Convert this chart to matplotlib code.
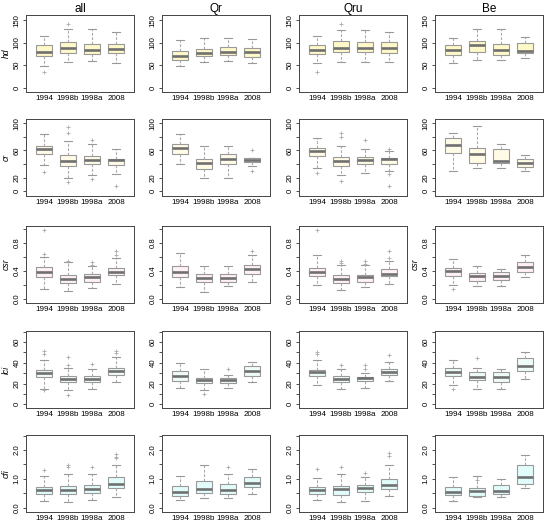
import matplotlib
matplotlib.use("Agg")
import matplotlib.pyplot as plt

plt.rcParams['font.family'] = ['Liberation Sans', 'DejaVu Sans']

years = ['1994', '1998b', '1998a', '2008']
groups = ['all', 'Qr', 'Qru', 'Be']
variables = ['hd', 'cr', 'csr', 'lci', 'cfi']

# box stats per year: whisker low, Q1, median, Q3, whisker high
hd_all = [[49, 71, 80, 94, 116], [57, 77, 88, 101, 131], [59, 75, 84, 98, 131], [55, 76, 86, 97, 125]]
hd_Qr = [[48, 61, 71, 81, 107], [56, 70, 77, 87, 111], [59, 73, 79, 91, 111], [54, 68, 80, 89, 109]]
hd_Qru = [[55, 74, 84, 94, 116], [57, 80, 89, 105, 129], [57, 79, 88, 101, 129], [56, 77, 88, 101, 125]]
hd_Be = [[55, 72, 84, 94, 111], [61, 79, 94, 103, 131], [61, 73, 84, 98, 131], [66, 76, 81, 99, 113]]
hd_all_out = [[34], [143], [], []]
hd_Qr_out = [[], [], [], []]
hd_Qru_out = [[34], [143], [], []]
hd_Be_out = [[], [], [], []]

cr_all = [[38, 54.4, 61.4, 66.5, 84.7], [19.5, 37.7, 44, 52.6, 74.4], [24, 40.5, 45.6, 52, 69], [24.6, 39, 46, 48, 61.4]]
cr_Qr = [[39.5, 54, 63, 69, 83.7], [19.5, 32, 41.4, 48, 66], [19.5, 39.5, 47, 55, 66], [37, 43, 46, 48.4, 49]]
cr_Qru = [[34, 51, 59.5, 63.7, 77.7], [24, 37, 44, 50, 66.5], [27.4, 40, 45.6, 50, 62], [30, 39.5, 47.4, 49, 59.5]]
cr_Be = [[29, 56, 68, 77.7, 85], [34, 42, 55, 64, 95], [34, 42, 44.7, 62, 70], [29, 35.3, 41, 47, 53]]
cr_all_out = [[28], [94, 85, 14], [75, 18.6], [8]]
cr_Qr_out = [[], [], [], [60.5, 30]]
cr_Qru_out = [[27], [85.6, 79, 14.4], [75], [62, 24.6, 8]]
cr_Be_out = [[], [], [], []]

csr_all = [[0.14, 0.315, 0.386, 0.45, 0.60], [0.108, 0.226, 0.29, 0.34, 0.52], [0.155, 0.24, 0.306, 0.35, 0.475], [0.21, 0.334, 0.376, 0.447, 0.59]]
csr_Qr = [[0.174, 0.31, 0.376, 0.475, 0.66], [0.10, 0.235, 0.30, 0.35, 0.475], [0.18, 0.235, 0.30, 0.35, 0.475], [0.24, 0.35, 0.42, 0.48, 0.63]]
csr_Qru = [[0.2, 0.32, 0.376, 0.447, 0.63], [0.13, 0.22, 0.29, 0.34, 0.485], [0.165, 0.24, 0.306, 0.344, 0.485], [0.21, 0.325, 0.36, 0.42, 0.54]]
csr_Be = [[0.2, 0.33, 0.40, 0.44, 0.565], [0.18, 0.26, 0.325, 0.367, 0.466], [0.19, 0.264, 0.33, 0.38, 0.42], [0.306, 0.376, 0.45, 0.52, 0.63]]
csr_all_out = [[0.64, 0.99], [0.54], [0.53, 0.49], [0.63, 0.69]]
csr_Qr_out = [[], [], [], [0.68]]
csr_Qru_out = [[0.99], [0.54, 0.51], [0.54, 0.50], [0.59, 0.69]]
csr_Be_out = [[0.14], [], [], []]

lci_all = [[15, 26.3, 30.2, 32.7, 42.9], [13.7, 21.6, 24.8, 27.3, 35], [14.6, 21.9, 24.8, 27.6, 34.3], [21.3, 28.6, 32, 35.2, 45.4]]
lci_Qr = [[15.6, 22.9, 27.3, 32.4, 40], [13.7, 20.6, 23.2, 25.4, 33.7], [15.9, 20.6, 23.8, 25, 28], [21.3, 27.3, 32, 36.8, 40.6]]
lci_Qru = [[18.7, 27, 31.1, 33.3, 42.9], [14.6, 21.3, 24.4, 27, 34.3], [15.6, 22.2, 25, 26.3, 30.5], [22.2, 28.6, 31.1, 34, 40.6]]
lci_Be = [[18.4, 27.6, 31.1, 34.6, 42.9], [15.2, 23.2, 26.7, 31.1, 35.2], [15.2, 21.3, 26.3, 31.1, 34.3], [24.8, 32, 37.1, 44.4, 50.2]]
lci_all_out = [[50.8, 48.6, 13.7], [45.4, 37.5, 8.9], [38.4], [50.8, 49.5]]
lci_Qr_out = [[], [9.5], [33.7], []]
lci_Qru_out = [[50.5, 48.6], [37.5], [37.5, 33.7], [47.3]]
lci_Be_out = [[14.6], [44.8], [], []]

cfi_all = [[0.235, 0.48, 0.62, 0.73, 1.1], [0.21, 0.47, 0.62, 0.75, 1.18], [0.25, 0.5, 0.65, 0.79, 1.16], [0.38, 0.68, 0.82, 1.07, 1.49]]
cfi_Qr = [[0.26, 0.41, 0.56, 0.76, 1.1], [0.32, 0.5, 0.65, 0.92, 1.49], [0.32, 0.46, 0.62, 0.82, 1.18], [0.49, 0.73, 0.87, 1.06, 1.35]]
cfi_Qru = [[0.27, 0.47, 0.61, 0.72, 1.02], [0.21, 0.44, 0.64, 0.74, 1.18], [0.235, 0.55, 0.67, 0.79, 1.08], [0.39, 0.66, 0.8, 1.0, 1.49]]
cfi_Be = [[0.24, 0.45, 0.56, 0.71, 1.07], [0.36, 0.42, 0.57, 0.69, 1.1], [0.38, 0.48, 0.58, 0.77, 0.99], [0.68, 0.81, 1.05, 1.49, 1.83]]
cfi_all_out = [[1.32], [1.49, 1.41], [1.41], [1.85, 1.76, 1.73]]
cfi_Qr_out = [[], [], [1.41], []]
cfi_Qru_out = [[1.33], [1.41], [1.21], [1.88, 1.79]]
cfi_Be_out = [[], [0.95], [], []]

stats = {
    'hd': [hd_all, hd_Qr, hd_Qru, hd_Be],
    'cr': [cr_all, cr_Qr, cr_Qru, cr_Be],
    'csr': [csr_all, csr_Qr, csr_Qru, csr_Be],
    'lci': [lci_all, lci_Qr, lci_Qru, lci_Be],
    'cfi': [cfi_all, cfi_Qr, cfi_Qru, cfi_Be],
}
outliers = {
    'hd': [hd_all_out, hd_Qr_out, hd_Qru_out, hd_Be_out],
    'cr': [cr_all_out, cr_Qr_out, cr_Qru_out, cr_Be_out],
    'csr': [csr_all_out, csr_Qr_out, csr_Qru_out, csr_Be_out],
    'lci': [lci_all_out, lci_Qr_out, lci_Qru_out, lci_Be_out],
    'cfi': [cfi_all_out, cfi_Qr_out, cfi_Qru_out, cfi_Be_out],
}

# axis settings per variable
box_colors = {'hd': '#fff8c8', 'cr': '#fffbe6', 'csr': '#fff0f4', 'lci': '#effcf6', 'cfi': '#e2fcfc'}
ylims = {'hd': (-10, 162), 'cr': (-7, 106), 'csr': (-0.06, 1.04), 'lci': (-3.5, 70.5), 'cfi': (-0.15, 2.52)}
yticks = {
    'hd': ([0, 50, 100, 150], ['0', '50', '100', '150']),
    'cr': ([0, 20, 40, 60, 80, 100], ['0', '20', '', '60', '', '100']),
    'csr': ([0, 0.2, 0.4, 0.6, 0.8, 1.0], ['0.0', '', '0.4', '', '0.8', '']),
    'lci': ([0, 10, 20, 30, 40, 50, 60, 70], ['0', '', '20', '', '40', '', '60', '']),
    'cfi': ([0, 0.5, 1.0, 1.5, 2.0, 2.5], ['0.0', '', '1.0', '', '2.0', '']),
}

W, H = 550, 527
fig = plt.figure(figsize=(W / 100, H / 100), dpi=100)

col_left = [26, 162, 299, 435]
col_w = 108
row_top = [15, 119, 226, 331, 435]
row_h = 77

grey = '#999999'
for i, var in enumerate(variables):
    for j, grp in enumerate(groups):
        ax = fig.add_axes([col_left[j] / W, 1 - (row_top[i] + row_h) / H, col_w / W, row_h / H])
        bxp_stats = []
        for k, yr in enumerate(years):
            lo, q1, med, q3, hi = stats[var][j][k]
            bxp_stats.append({'whislo': lo, 'q1': q1, 'med': med, 'q3': q3, 'whishi': hi,
                              'fliers': outliers[var][j][k], 'label': yr})
        ax.bxp(bxp_stats, positions=[1, 2, 3, 4], widths=0.7, patch_artist=True,
               boxprops=dict(facecolor=box_colors[var], edgecolor=grey, linewidth=0.8),
               medianprops=dict(color='#707070', linewidth=1.9),
               whiskerprops=dict(color='#aaaaaa', linewidth=0.8, linestyle=(0, (2.5, 1.5))),
               capprops=dict(color=grey, linewidth=0.8),
               flierprops=dict(marker='+', markersize=2.5, markeredgecolor='#aaaaaa', markeredgewidth=0.6))
        ax.set_xlim(0.25, 4.75)
        ax.set_ylim(*ylims[var])
        ticks, labels = yticks[var]
        ax.set_yticks(ticks)
        ax.set_yticklabels(labels, rotation=90, va='center')
        ax.tick_params(axis='y', length=2.5, width=0.6, pad=1.5, labelsize=5.6, color='#333333')
        ax.tick_params(axis='x', length=0, pad=2.5, labelsize=5.8)
        for sp in ax.spines.values():
            sp.set_color('#444444')
            sp.set_linewidth(0.7)
        if i == 0:
            ax.set_title(grp, fontsize=8.5, pad=2)
        if j == 0 or (var == 'csr' and grp == 'Be'):
            ax.set_ylabel(var, fontsize=6.2, style='italic', labelpad=2)

fig.savefig('out.png', dpi=100)
